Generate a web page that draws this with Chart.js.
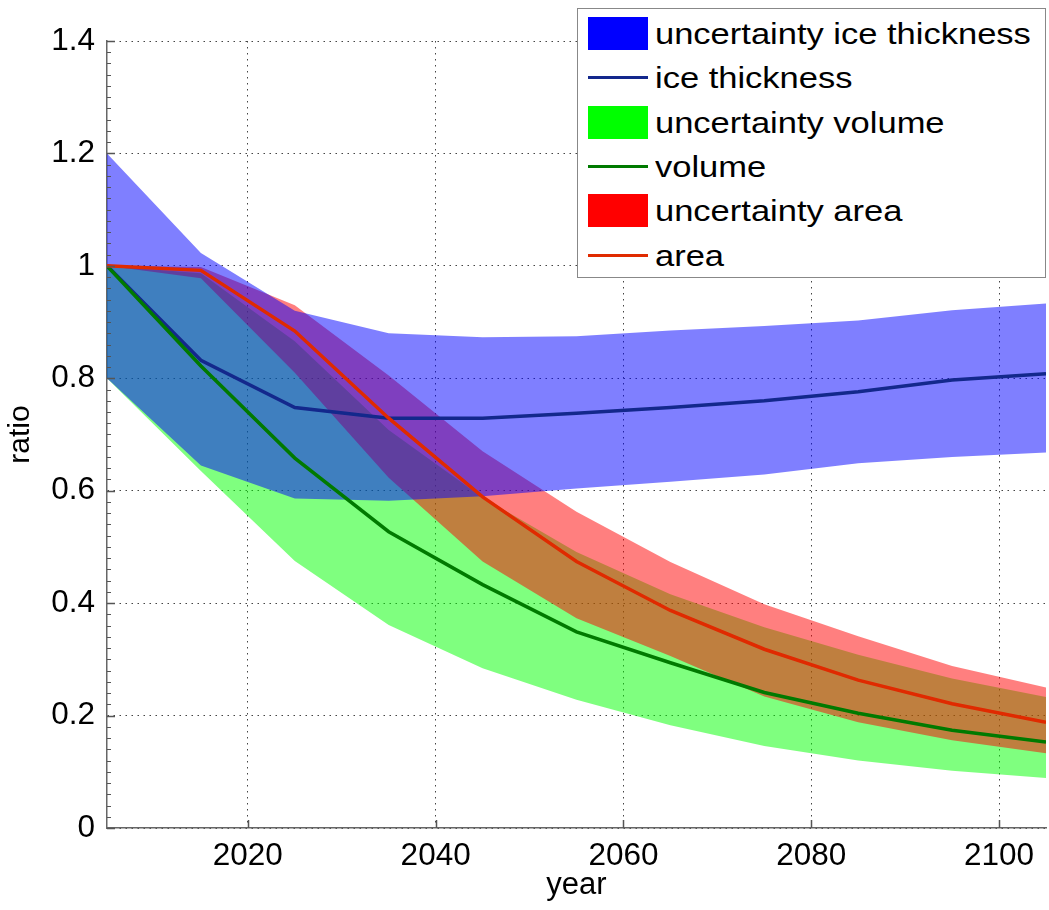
<!DOCTYPE html>
<html>
<head>
<meta charset="utf-8">
<script src="https://cdn.jsdelivr.net/npm/chart.js@4.4.1/dist/chart.umd.min.js"></script>
<style>
  body { margin: 0; background: #fff; }
  #wrap { position: relative; width: 1049px; height: 910px; }
  #legend {
    position: absolute; left: 577px; top: 8px; width: 469px; height: 270px;
    box-sizing: border-box; border: 1px solid #888; background: #fff;
    font-family: "Liberation Sans", Arial, sans-serif; font-size: 30px; color: #000;
  }
  .row { position: absolute; left: 10px; height: 44px; width: 450px; }
  .sw { position: absolute; left: 0; }
  .lbl { position: absolute; left: 67px; top: 0; line-height: 44px; white-space: nowrap;
         transform: scaleX(1.15); transform-origin: left center; }
</style>
</head>
<body>
<div id="wrap">
  <canvas id="chart" width="1049" height="910"></canvas>
  <div id="legend"></div>
</div>
<script>
// values, one point every 10 years
const years = [2005, 2015, 2025, 2035, 2045, 2055, 2065, 2075, 2085, 2095, 2105]
const iceThickness = [1.0, 0.832, 0.748, 0.729, 0.729, 0.738, 0.748, 0.760, 0.776, 0.797, 0.808]
const iceUpper = [1.2, 1.023, 0.92, 0.88, 0.873, 0.875, 0.885, 0.893, 0.903, 0.921, 0.933]
const iceLower = [0.8, 0.645, 0.586, 0.582, 0.59, 0.604, 0.616, 0.629, 0.649, 0.66, 0.668]
const volume = [1.0, 0.822, 0.658, 0.527, 0.433, 0.349, 0.294, 0.241, 0.204, 0.174, 0.153]
const volumeUpper = [1.0, 0.987, 0.866, 0.708, 0.588, 0.491, 0.416, 0.357, 0.308, 0.266, 0.233]
const volumeLower = [0.8, 0.635, 0.475, 0.361, 0.284, 0.228, 0.183, 0.146, 0.120, 0.102, 0.089]
const area = [1.0, 0.992, 0.884, 0.729, 0.589, 0.474, 0.387, 0.318, 0.263, 0.221, 0.188]
const areaUpper = [1.0, 0.998, 0.93, 0.805, 0.67, 0.5625, 0.473, 0.398, 0.341, 0.288, 0.25]
const areaLower = [1.0, 0.978, 0.81, 0.623, 0.474, 0.373, 0.306, 0.234, 0.188, 0.156, 0.133]

const xTicks = [2020, 2040, 2060, 2080, 2100]
const yTicks = [0, 0.2, 0.4, 0.6, 0.8, 1, 1.2, 1.4]

const legendItems = [
    { label: 'uncertainty ice thickness', type: 'box', color: '#0000ff' },
    { label: 'ice thickness', type: 'line', color: '#13288c' },
    { label: 'uncertainty volume', type: 'box', color: '#00ff00' },
    { label: 'volume', type: 'line', color: '#007a00' },
    { label: 'uncertainty area', type: 'box', color: '#ff0000' },
    { label: 'area', type: 'line', color: '#e02a00' }
]

const pts = (vals) => years.map((yr, i) => ({ x: yr, y: vals[i] }))

const FONT = '"Liberation Sans", Arial, sans-serif'

// lower edge of a band, not drawn itself
const edge = (vals) => ({
    data: pts(vals), borderWidth: 0, borderColor: 'transparent',
    pointRadius: 0, fill: false, order: 50
})
const band = (vals, target, color, order) => ({
    data: pts(vals), borderWidth: 0, borderColor: 'transparent',
    pointRadius: 0, fill: { target: target }, backgroundColor: color, order: order
})
const line = (vals, color, order) => ({
    data: pts(vals), borderWidth: 3.5, borderColor: color,
    pointRadius: 0, fill: false, order: order
})

// inward tick marks like the original axes
const inwardTicks = {
    id: 'inwardTicks',
    afterDraw(chart) {
        const { ctx, chartArea, scales } = chart
        ctx.save()
        ctx.strokeStyle = '#555'
        ctx.lineWidth = 1.5
        ctx.beginPath()
        yTicks.forEach(v => {
            const py = Math.round(scales.y.getPixelForValue(v)) + 0.5
            ctx.moveTo(chartArea.left, py)
            ctx.lineTo(chartArea.left + 8, py)
        })
        xTicks.forEach(v => {
            const px = Math.round(scales.x.getPixelForValue(v)) + 0.5
            ctx.moveTo(px, chartArea.bottom)
            ctx.lineTo(px, chartArea.bottom - 8)
        })
        ctx.stroke()
        // small minor ticks on the y axis
        ctx.lineWidth = 1
        ctx.beginPath()
        for (let i = 1; i < 70; i++) {
            if (i % 10 === 0) continue
            const py = Math.round(scales.y.getPixelForValue(i * 0.02)) + 0.5
            ctx.moveTo(chartArea.left, py)
            ctx.lineTo(chartArea.left + 4, py)
        }
        ctx.stroke()
        ctx.restore()
    }
}

new Chart(document.getElementById('chart'), {
    type: 'line',
    data: {
        datasets: [
            edge(iceLower),                               // 0
            band(iceUpper, 0, 'rgba(0,0,255,0.5)', 10),   // 1
            edge(volumeLower),                            // 2
            band(volumeUpper, 2, 'rgba(0,255,0,0.5)', 30),// 3
            edge(areaLower),                              // 4
            band(areaUpper, 4, 'rgba(255,0,0,0.5)', 20),  // 5
            line(iceThickness, '#13288c', 3),
            line(volume, '#007a00', 2),
            line(area, '#e02a00', 1)
        ]
    },
    options: {
        responsive: false,
        animation: false,
        layout: { padding: { top: 41, right: 3, left: 0, bottom: 0 } },
        plugins: { legend: { display: false }, tooltip: { enabled: false } },
        elements: { line: { tension: 0 } },
        scales: {
            x: {
                type: 'linear', min: 2005, max: 2105, z: 1,
                afterBuildTicks: (s) => { s.ticks = xTicks.map(v => ({ value: v })) },
                afterFit: (s) => { s.height = 82 },
                ticks: { color: '#000', padding: 9, font: { family: FONT, size: 31.5 },
                         callback: (v) => String(v) },
                grid: { color: '#444', drawTicks: false, lineWidth: 1 },
                border: { display: true, color: '#666', width: 1.5, dash: [1.5, 4.5] },
                title: { display: true, text: 'year', color: '#000', padding: { top: 0, bottom: 6 },
                         font: { family: FONT, size: 31 } }
            },
            y: {
                type: 'linear', min: 0, max: 1.4, z: 1,
                afterBuildTicks: (s) => { s.ticks = yTicks.map(v => ({ value: v })) },
                afterFit: (s) => { s.width = 107 },
                ticks: { color: '#000', padding: 12, font: { family: FONT, size: 31.5 },
                         callback: (v) => String(+v.toFixed(1)) },
                grid: { color: '#444', drawTicks: false, lineWidth: 1 },
                border: { display: true, color: '#666', width: 1.5, dash: [1.5, 4.5] },
                title: { display: true, text: 'ratio', color: '#000', padding: { top: 3, bottom: 0 },
                         font: { family: FONT, size: 30 } }
            }
        }
    },
    plugins: [inwardTicks]
})

// legend box drawn as html text
const legend = document.getElementById('legend')
legendItems.forEach((it, i) => {
    const row = document.createElement('div')
    row.className = 'row'
    row.style.top = (3 + i * 44.3) + 'px'
    const sw = document.createElement('div')
    sw.className = 'sw'
    if (it.type === 'box') {
        sw.style.cssText = `top:5px;width:60px;height:33px;background:${it.color}`
    } else {
        sw.style.cssText = `top:20px;width:60px;height:3px;background:${it.color}`
    }
    const lbl = document.createElement('div')
    lbl.className = 'lbl'
    lbl.textContent = it.label
    row.appendChild(sw)
    row.appendChild(lbl)
    legend.appendChild(row)
})
</script>
</body>
</html>
